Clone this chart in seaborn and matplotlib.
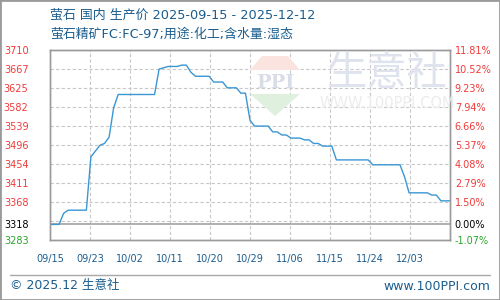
import matplotlib
matplotlib.use("Agg")
import matplotlib.pyplot as plt
import seaborn as sns
import pandas as pd
from matplotlib.patches import Polygon, Rectangle
from matplotlib.lines import Line2D

# ---------------- data ----------------
prices = [3318, 3318, 3318, 3343, 3350, 3350, 3350, 3350, 3350, 3470,
          3483, 3496, 3500, 3514, 3580, 3610, 3610, 3610, 3610, 3610,
          3610, 3610, 3610, 3610, 3667, 3670, 3673, 3673, 3673, 3676,
          3676, 3660, 3651, 3651, 3651, 3651, 3638, 3638, 3638, 3625,
          3625, 3625, 3613, 3613, 3552, 3539, 3539, 3539, 3539, 3526,
          3526, 3519, 3519, 3512, 3512, 3512, 3508, 3508, 3500, 3500,
          3494, 3494, 3494, 3463, 3463, 3463, 3463, 3463, 3463, 3463,
          3463, 3452, 3452, 3452, 3452, 3452, 3452, 3452, 3425, 3389,
          3389, 3389, 3389, 3389, 3384, 3384, 3371, 3371, 3371]
days = list(range(len(prices)))
x_tick_labels = ["09/15", "09/23", "10/02", "10/11", "10/20",
                 "10/29", "11/06", "11/15", "11/24", "12/03"]
left_tick_values = [3710, 3667, 3625, 3582, 3539, 3496, 3454, 3411, 3368, 3318, 3283]
right_tick_labels = ["11.81%", "10.52%", "9.23%", "7.94%", "6.66%", "5.37%",
                     "4.08%", "2.79%", "1.50%", "0.00%", "-1.07%"]
base_price = 3318
title_line1 = "萤石 国内 生产价 2025-09-15 - 2025-12-12"
title_line2 = "萤石精矿FC:FC-97;用途:化工;含水量:湿态"

df = pd.DataFrame({"day": days, "price": prices})

# ---------------- style ----------------
sns.set_style("white")
plt.rcParams['font.family'] = ['Noto Sans CJK SC', 'DejaVu Sans']
mixed = ['DejaVu Sans', 'Noto Sans CJK SC']

W, H = 500, 300
fig = plt.figure(figsize=(W / 100, H / 100), dpi=100)
ax = fig.add_axes([50 / W, 60 / H, 400 / W, 190 / H])

ymin, ymax = 3283, 3710
ax.set_ylim(ymin, ymax)
xmax = days[-1]
ax.set_xlim(0, xmax)

red = "#f03a3a"
green = "#2aa52a"
blue_txt = "#1b5d8e"
grid_c = "#c8c8c8"

# grid lines
step = (ymax - ymin) / 10
for k in range(1, 10):
    ax.axhline(ymin + step * k, color=grid_c, lw=0.8, ls=(0, (3, 2)), zorder=1)
xticks = [xmax * k / 10 for k in range(10)]
for xv in xticks[1:]:
    ax.axvline(xv, color=grid_c, lw=0.8, ls=(0, (3, 2)), zorder=1)
ax.axhline(base_price, color="#9a9a9a", lw=1.1, zorder=2)

# watermark
def px(x, y):
    return (x / W, 1 - y / H)

fig.patches.append(Polygon([px(262, 56), px(288, 56), px(300, 70), px(250, 70)],
                           closed=True, transform=fig.transFigure,
                           facecolor="#fbe3df", edgecolor="none", zorder=0))
fig.patches.append(Polygon([px(250, 94), px(300, 94), px(275, 116)],
                           closed=True, transform=fig.transFigure,
                           facecolor="#dff0df", edgecolor="none", zorder=0))
fig.text(275 / W, 1 - 83 / H, "PPI", fontsize=14, color="#d8dde8",
         ha="center", va="center", family="DejaVu Serif", fontweight="bold", zorder=0)
fig.text(387 / W, 1 - 73 / H, "生意社", fontsize=29, color="#dfe3ed",
         ha="center", va="center", zorder=0)
fig.text(387 / W, 1 - 104 / H, "WWW.100PPI.COM", fontsize=10.5, color="#ececec",
         ha="center", va="center", family="DejaVu Sans", zorder=0)
ax.patch.set_alpha(0)

# data line
sns.lineplot(data=df, x="day", y="price", ax=ax, color="#3a96d4",
             linewidth=1.0, zorder=5)
ax.set_xlabel("")
ax.set_ylabel("")

# x ticks
ax.set_xticks(xticks)
ax.set_xticklabels(x_tick_labels, family="DejaVu Sans", fontsize=7, color=blue_txt)
ax.tick_params(axis="x", length=0, pad=10)

# left y ticks
ax.set_yticks(left_tick_values)
ax.set_yticklabels([str(v) for v in left_tick_values], family="DejaVu Sans", fontsize=7)
ax.tick_params(axis="y", length=0, pad=15.5)
for lab, v in zip(ax.get_yticklabels(), left_tick_values):
    lab.set_color("black" if v == base_price else (green if v < base_price else red))

# right y ticks
ax2 = ax.twinx()
ax2.set_ylim(ymin, ymax)
ax2.set_yticks(left_tick_values)
ax2.set_yticklabels(right_tick_labels, family="DejaVu Sans", fontsize=7)
ax2.tick_params(axis="y", length=0, pad=3.5)
for lab, v in zip(ax2.get_yticklabels(), left_tick_values):
    lab.set_color("black" if v == base_price else (green if v < base_price else red))

for a in (ax, ax2):
    for s in a.spines.values():
        s.set_color("#9a9a9a")
        s.set_linewidth(1.0)
        s.set_visible(True)

# titles
fig.text(50 / W, 1 - 15 / H, title_line1, fontsize=9.3, color=blue_txt,
         ha="left", va="center", family=mixed)
fig.text(50 / W, 1 - 34 / H, title_line2, fontsize=9.3, color=blue_txt,
         ha="left", va="center", family=mixed)

# footer
fig.add_artist(Line2D([10 / W, 490 / W], [1 - 275 / H] * 2, color="#a8a8a8",
                      lw=1.0, transform=fig.transFigure))
fig.text(10 / W, 1 - 286 / H, "© 2025.12 生意社", fontsize=9.0, color=blue_txt,
         ha="left", va="center", family=mixed)
fig.text(490 / W, 1 - 286 / H, "www.100PPI.com", fontsize=9.0, color=blue_txt,
         ha="right", va="center", family="DejaVu Sans")

# outer border
fig.patches.append(Rectangle((0, 0), 1, 1, transform=fig.transFigure, fill=False,
                             edgecolor="#9a9a9a", lw=2.0, zorder=10))

fig.savefig("out.png", dpi=100)
